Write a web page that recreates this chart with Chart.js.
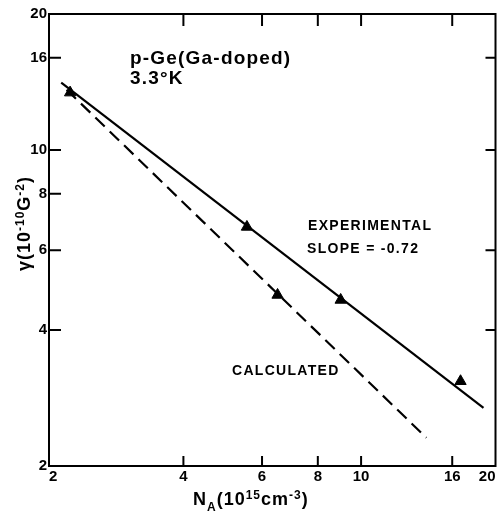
<!DOCTYPE html>
<html><head><meta charset="utf-8">
<script src="https://cdn.jsdelivr.net/npm/chart.js@4/dist/chart.umd.min.js"></script>
<style>html,body{margin:0;padding:0;background:#fff}#wrap{width:503px;height:513px;position:relative}</style>
</head><body><div id="wrap"><canvas id="c" width="503" height="513"></canvas></div>
<script>
// ---- data (log-log plot) ----
const tickValues = [2, 4, 6, 8, 10, 16, 20];
const innerTicksBottom = [4, 6, 8, 10, 16];
const innerTicksTop = [4, 6, 8, 10, 16];
const innerTicksLeft = [4, 6, 8, 10, 16];
const innerTicksRight = [4, 6, 10, 16];
const expX = [2.23, 5.55, 6.5, 9.0, 16.7];
const expY = [13.4, 6.76, 4.78, 4.66, 3.08];
const fitX = [2.13, 18.8];
const fitY = [14.1, 2.69];
const calcX = [2.19, 14.0];
const calcY = [13.6, 2.31];

const pts = (xs, ys) => xs.map((x, i) => ({ x, y: ys[i] }));
const FONT = '"Liberation Sans", Arial, sans-serif';

const decor = {
  id: 'decor',
  afterDraw(chart) {
    const { ctx, chartArea: a, scales: { x, y } } = chart;
    ctx.save();
    ctx.strokeStyle = '#000';
    ctx.lineWidth = 2;
    ctx.strokeRect(a.left, a.top, a.right - a.left, a.bottom - a.top);
    ctx.beginPath();
    innerTicksBottom.forEach(v => { const p = x.getPixelForValue(v); ctx.moveTo(p, a.bottom); ctx.lineTo(p, a.bottom - 10); });
    innerTicksTop.forEach(v => { const p = x.getPixelForValue(v); ctx.moveTo(p, a.top); ctx.lineTo(p, a.top + 12); });
    innerTicksLeft.forEach(v => { const p = y.getPixelForValue(v); ctx.moveTo(a.left, p); ctx.lineTo(a.left + 12, p); });
    innerTicksRight.forEach(v => { const p = y.getPixelForValue(v); ctx.moveTo(a.right, p); ctx.lineTo(a.right - 10, p); });
    ctx.stroke();

    ctx.fillStyle = '#000';
    ctx.textBaseline = 'alphabetic';
    ctx.textAlign = 'left';
    ctx.letterSpacing = '1.2px';
    ctx.font = 'bold 19px ' + FONT;
    ctx.fillText('p-Ge(Ga-doped)', 130, 64);
    ctx.fillText('3.3°K', 130, 84);
    ctx.letterSpacing = '1.3px';
    ctx.font = 'bold 14px ' + FONT;
    ctx.fillText('EXPERIMENTAL', 308, 230);
    ctx.fillText('SLOPE = -0.72', 307, 253);
    ctx.fillText('CALCULATED', 232, 375);

    ctx.letterSpacing = '1px';
    const drawParts = (parts, x0, base) => {
      let cx = x0;
      parts.forEach(([t, size, dy]) => {
        ctx.font = 'bold ' + size + 'px ' + FONT;
        ctx.fillText(t, cx, base + dy);
        cx += ctx.measureText(t).width;
      });
    };
    // x-axis title
    drawParts([['N', 18, 0], ['A', 12, 6], ['(10', 18, 0], ['15', 12, -6], ['cm', 18, 0], ['-3', 12, -6], [')', 18, 0]], 193, 505);
    // y-axis title (rotated)
    ctx.save();
    ctx.translate(30, 271);
    ctx.rotate(-Math.PI / 2);
    drawParts([['γ', 18, 0], ['(10', 18, 0], ['-10', 12, -6], ['G', 18, 0], ['-2', 12, -6], [')', 18, 0]], 0, 0);
    ctx.restore();
    ctx.restore();
  }
};

new Chart(document.getElementById('c'), {
  type: 'scatter',
  data: {
    datasets: [
      { label: 'Experimental', data: pts(expX, expY), pointStyle: 'triangle', pointRadius: 6.5,
        backgroundColor: '#000', borderColor: '#000', showLine: false },
      { label: 'Fit', data: pts(fitX, fitY), showLine: true, pointRadius: 0, borderColor: '#000', borderWidth: 2.2 },
      { label: 'Calculated', data: pts(calcX, calcY), showLine: true, pointRadius: 0, borderColor: '#000', borderWidth: 2.2, borderDash: [13, 7] }
    ]
  },
  options: {
    responsive: false,
    devicePixelRatio: 1,
    animation: false,
    layout: { padding: { left: 0, right: 3, top: 14, bottom: 0 } },
    plugins: { legend: { display: false }, tooltip: { enabled: false } },
    scales: {
      x: {
        type: 'logarithmic', min: 2, max: 20, position: 'bottom',
        afterBuildTicks: s => { s.ticks = tickValues.map(v => ({ value: v })); },
        afterFit: s => { s.height = 47; },
        grid: { display: false, drawTicks: false }, border: { display: false },
        ticks: { callback: v => String(v), autoSkip: false, maxRotation: 0, align: 'inner', padding: 2,
          color: '#000', font: { family: FONT, size: 15, weight: 'bold' } }
      },
      y: {
        type: 'logarithmic', min: 2, max: 20, position: 'left',
        afterBuildTicks: s => { s.ticks = tickValues.map(v => ({ value: v })); },
        afterFit: s => { s.width = 49; },
        grid: { display: false, drawTicks: false }, border: { display: false },
        ticks: { callback: v => String(v), autoSkip: false, padding: 2,
          color: '#000', font: { family: FONT, size: 15, weight: 'bold' } }
      }
    }
  },
  plugins: [decor]
});
</script></body></html>
